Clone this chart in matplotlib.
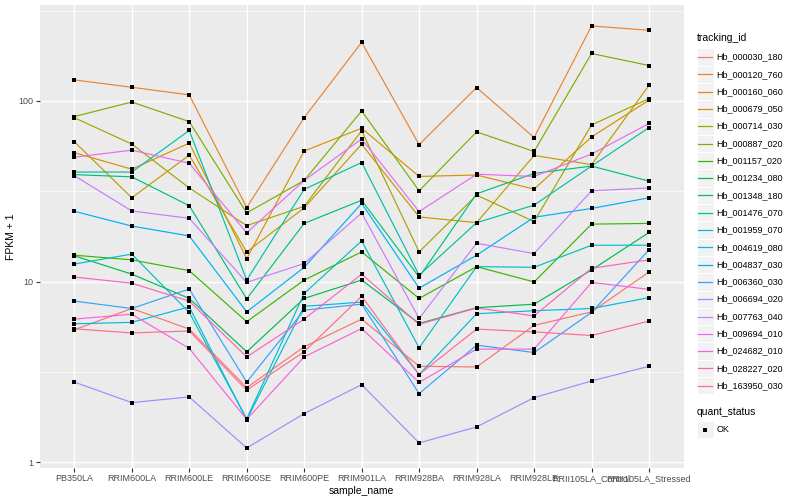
import numpy as np
import matplotlib
matplotlib.use("Agg")
import matplotlib.pyplot as plt
from matplotlib.patches import Rectangle
from matplotlib.ticker import FixedLocator, NullFormatter

plt.rcParams['font.family'] = ['Liberation Sans', 'DejaVu Sans']

samples = ["PB350LA", "RRIM600LA", "RRIM600LE", "RRIM600SE", "RRIM600PE",
           "RRIM901LA", "RRIM928BA", "RRIM928LA", "RRIM928LE",
           "RRII105LA_Control", "RRII105LA_Stressed"]

# FPKM + 1 values per gene
hb_000030_180 = [5.41, 7.1, 5.46, 2.59, 4.36, 6.2, 3.4, 3.37, 5.72, 6.8, 11.3]
hb_000120_760 = [130.7, 119, 108, 25.7, 80.8, 211, 57.3, 118.6, 62.7, 260, 246]
hb_000160_060 = [51.7, 41.9, 58.4, 13.4, 52.8, 70.6, 38.2, 38.9, 32.5, 63.2, 101]
hb_000679_050 = [59.5, 29.1, 50.1, 14.6, 25.6, 57.6, 22.8, 21.2, 49.9, 44.4, 122]
hb_000714_030 = [80.8, 57.7, 33.0, 20.4, 26.1, 68.4, 14.6, 30.1, 21.5, 73.6, 103]
hb_000887_020 = [81.9, 98.6, 76.8, 24.0, 36.3, 88, 31.8, 67.4, 52.5, 183, 157]
hb_001157_020 = [14.0, 13.2, 11.5, 6.0, 10.2, 14.6, 8.07, 12.1, 9.96, 20.8, 21.0]
hb_001234_080 = [13.9, 11.0, 8.07, 4.09, 8.07, 10.2, 5.87, 7.17, 7.5, 11.6, 18.7]
hb_001348_180 = [39.1, 38.0, 26.3, 8.03, 21.0, 28.2, 10.6, 30.6, 39.7, 43.6, 36.0]
hb_001476_070 = [40.4, 40.4, 68.6, 10.2, 32.4, 45.6, 10.85, 21.2, 26.5, 43.6, 71.2]
hb_001959_070 = [12.5, 14.2, 6.75, 1.74, 8.6, 16.8, 4.3, 12.1, 12.0, 15.9, 15.9]
hb_004619_080 = [5.84, 5.95, 7.25, 1.72, 7.3, 7.7, 3.06, 6.64, 6.9, 7.1, 8.15]
hb_004837_030 = [24.5, 20.3, 17.9, 6.8, 12.0, 27.1, 9.2, 14.0, 22.7, 25.4, 29.1]
hb_006360_030 = [7.8, 7.1, 9.1, 2.78, 6.95, 7.5, 2.4, 4.45, 4.05, 6.75, 15.0]
hb_006694_020 = [2.78, 2.14, 2.3, 1.2, 1.86, 2.69, 1.28, 1.57, 2.28, 2.82, 3.4]
hb_007763_040 = [38.6, 24.6, 22.4, 9.9, 12.6, 24.0, 6.25, 16.3, 14.3, 31.8, 33.0]
hb_009694_010 = [48.8, 53.4, 45.2, 18.6, 36.3, 61.6, 24.4, 39.3, 38.2, 50.8, 75.0]
hb_024682_010 = [6.2, 6.6, 4.27, 1.73, 3.83, 5.5, 2.77, 4.23, 4.23, 9.9, 9.06]
hb_028227_020 = [10.6, 9.8, 7.8, 3.83, 6.2, 11.0, 5.8, 7.15, 6.46, 11.85, 13.2]
hb_163950_030 = [5.48, 5.2, 5.33, 2.51, 4.09, 8.3, 3.06, 5.46, 5.27, 5.03, 6.05]

tracking_ids = ["Hb_000030_180", "Hb_000120_760", "Hb_000160_060", "Hb_000679_050",
                "Hb_000714_030", "Hb_000887_020", "Hb_001157_020", "Hb_001234_080",
                "Hb_001348_180", "Hb_001476_070", "Hb_001959_070", "Hb_004619_080",
                "Hb_004837_030", "Hb_006360_030", "Hb_006694_020", "Hb_007763_040",
                "Hb_009694_010", "Hb_024682_010", "Hb_028227_020", "Hb_163950_030"]
series = [hb_000030_180, hb_000120_760, hb_000160_060, hb_000679_050,
          hb_000714_030, hb_000887_020, hb_001157_020, hb_001234_080,
          hb_001348_180, hb_001476_070, hb_001959_070, hb_004619_080,
          hb_004837_030, hb_006360_030, hb_006694_020, hb_007763_040,
          hb_009694_010, hb_024682_010, hb_028227_020, hb_163950_030]
colors = ["#F8766D", "#EA8331", "#D89000", "#C09B00", "#A3A500", "#7CAE00",
          "#39B600", "#00BB4E", "#00BF7D", "#00C1A3", "#00BFC4", "#00BAE0",
          "#00B0F6", "#35A2FF", "#9590FF", "#C77CFF", "#E76BF3", "#FA62DB",
          "#FF62BC", "#FF6C91"]
status_labels = ["OK"]

W, H = 800, 500
fig = plt.figure(figsize=(8, 5), dpi=100)
pl, pr, pt, pb = 39.8, 683.5, 5.0, 468.0
ax = fig.add_axes([pl / W, 1 - pb / H, (pr - pl) / W, (pb - pt) / H])
ax.set_facecolor('#EBEBEB')
for s in ax.spines.values():
    s.set_visible(False)

x = np.arange(1, len(samples) + 1)
for vals, c in zip(series, colors):
    ax.plot(x, vals, color=c, lw=0.85, zorder=2, solid_capstyle='butt')
for vals in series:
    ax.plot(x, vals, linestyle='none', marker='s', ms=3.0, mew=0,
            color='black', zorder=3)

ax.set_yscale('log')
ax.set_ylim(0.93, 339.5)
ax.set_xlim(0.4, len(samples) + 0.6)
ax.yaxis.set_major_locator(FixedLocator([1, 10, 100]))
ax.yaxis.set_minor_locator(FixedLocator([10 ** 0.5, 10 ** 1.5, 10 ** 2.5]))
ax.yaxis.set_minor_formatter(NullFormatter())
ax.set_yticklabels(["1", "10", "100"])
ax.set_xticks(x)
ax.set_xticklabels(samples)
ax.set_axisbelow(True)
ax.grid(which='major', color='white', lw=1.0)
ax.grid(which='minor', axis='y', color='white', lw=0.5)
ax.tick_params(axis='both', which='major', length=3, width=0.8, color='#333333',
               labelsize=6.5, labelcolor='#4D4D4D', pad=1.5)
ax.tick_params(axis='both', which='minor', length=0)
ax.set_xlabel('sample_name', fontsize=7.5, labelpad=2)
ax.set_ylabel('FPKM + 1', fontsize=7.5, labelpad=2)

# legend drawn in pixel coordinates
lg = fig.add_axes([0, 0, 1, 1], facecolor='none')
lg.set_xlim(0, W)
lg.set_ylim(H, 0)
lg.axis('off')
kx, ksz = 696.7, 17.3
lg.text(kx, 38, 'tracking_id', fontsize=7.5, va='center', ha='left')
y0 = 57.0
for i, (name, c) in enumerate(zip(tracking_ids, colors)):
    cy = y0 + i * ksz
    lg.add_patch(Rectangle((kx, cy - ksz / 2), ksz, ksz, facecolor='#F2F2F2',
                           edgecolor='white', lw=0.8))
    lg.plot([kx + 1.7, kx + ksz - 1.7], [cy, cy], color=c, lw=0.9)
    lg.text(kx + ksz + 2.5, cy, name, fontsize=6.5, va='center', ha='left')
lg.text(kx, 412.3, 'quant_status', fontsize=7.5, va='center', ha='left')
for j, lab in enumerate(status_labels):
    cy = 429.5 + j * ksz
    lg.add_patch(Rectangle((kx, cy - ksz / 2), ksz, ksz, facecolor='#F2F2F2',
                           edgecolor='white', lw=0.8))
    lg.plot([kx + ksz / 2], [cy], marker='s', ms=3.0, mew=0, color='black',
            linestyle='none')
    lg.text(kx + ksz + 2.5, cy, lab, fontsize=6.5, va='center', ha='left')

fig.savefig('out.png', dpi=100)
